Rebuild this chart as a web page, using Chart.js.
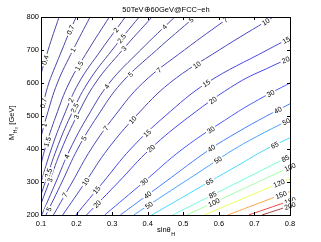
<!DOCTYPE html>
<html>
<head>
<meta charset="utf-8">
<script src="https://cdn.jsdelivr.net/npm/chart.js@4.4.1/dist/chart.umd.min.js"></script>
<style>
  html, body { margin: 0; padding: 0; background: #fff; }
  #wrap { width: 321px; height: 242px; }
</style>
</head>
<body>
<div id="wrap"><canvas id="chart" width="321" height="242"></canvas></div>
<script>
// contour levels and the traced lines, as [sinθ, M_H3] pairs
const levels = [0.4, 0.7, 1, 1.5, 2, 2.5, 3, 4, 5, 7, 10, 15, 20, 30, 40, 50, 65, 85, 100, 120, 150, 180, 200];

const c0_4 = [[0.1,627],[0.106,650],[0.120,700],[0.135,750],[0.151,800]];
const c0_7 = [[0.1,512],[0.109,550],[0.122,600],[0.140,650],[0.159,700],[0.178,750],[0.199,800]];
const c1   = [[0.1,437],[0.116,500],[0.146,600],[0.190,700],[0.238,800]];
const c1_5 = [[0.1,353],[0.111,400],[0.142,500],[0.179,600],[0.233,700],[0.292,800]];
const c2   = [[0.1,299],[0.129,400],[0.164,500],[0.206,600],[0.269,700],[0.337,800]];
const c2_5 = [[0.1,261],[0.112,300],[0.144,400],[0.183,500],[0.231,600],[0.300,700],[0.376,800]];
const c3   = [[0.1,234],[0.123,300],[0.158,400],[0.201,500],[0.253,600],[0.329,700],[0.412,800]];
const c4   = [[0.102,200],[0.142,300],[0.182,400],[0.232,500],[0.292,600],[0.380,700],[0.476,800]];
const c5   = [[0.114,200],[0.159,300],[0.203,400],[0.259,500],[0.326,600],[0.425,700],[0.532,800]];
const c7   = [[0.135,200],[0.188,300],[0.241,400],[0.307,500],[0.386,600],[0.503,700],[0.630,800]];
const c10  = [[0.161,200],[0.225,300],[0.288,400],[0.367,500],[0.462,600],[0.601,700],[0.753,800]];
const c15  = [[0.198,200],[0.275,300],[0.352,400],[0.449,500],[0.566,600],[0.736,700],[0.8,736]];
const c20  = [[0.228,200],[0.318,300],[0.407,400],[0.519,500],[0.653,600],[0.747,650],[0.8,676]];
const c30  = [[0.279,200],[0.389,300],[0.498,400],[0.635,500],[0.712,550],[0.8,600]];
const c40  = [[0.323,200],[0.449,300],[0.576,400],[0.651,450],[0.734,500],[0.8,537]];
const c50  = [[0.361,200],[0.431,250],[0.502,300],[0.573,350],[0.644,400],[0.728,450],[0.8,489]];
const c65  = [[0.411,200],[0.492,250],[0.572,300],[0.653,350],[0.734,400],[0.8,434]];
const c85  = [[0.470,200],[0.562,250],[0.655,300],[0.747,350],[0.8,379]];
const c100 = [[0.510,200],[0.610,250],[0.710,300],[0.8,345]];
const c120 = [[0.559,200],[0.668,250],[0.778,300],[0.8,310]];
const c150 = [[0.625,200],[0.747,250],[0.8,271]];
const c180 = [[0.684,200],[0.751,225],[0.8,243]];
const c200 = [[0.721,200],[0.764,215],[0.8,228]];

const contours = [c0_4, c0_7, c1, c1_5, c2, c2_5, c3, c4, c5, c7, c10, c15, c20,
                  c30, c40, c50, c65, c85, c100, c120, c150, c180, c200];

// where the inline labels sit: [level, M_H3]
const labelSpots = [
  [0.4,670], [0.7,761], [0.7,539], [1,700], [1,473], [1.5,652], [1.5,422],
  [2,761], [2,548], [2.5,735], [2.5,524], [2.5,327], [3,705], [3,497], [3,306],
  [4,770], [4,589], [4,377], [5,791], [5,626], [5,432], [5,218],
  [7,791], [7,639], [7,463], [7,261], [10,786], [10,655], [10,488], [10,301],
  [15,730], [15,599], [15,448], [15,276], [20,670], [20,548], [20,402], [20,233],
  [30,569], [30,458], [30,301], [40,518], [40,402], [40,261],
  [50,483], [50,367], [50,230], [65,412], [65,301], [85,372], [85,261],
  [100,346], [100,238], [120,296], [150,261], [180,245], [200,230]
];

const xTicks = [0.1, 0.2, 0.3, 0.4, 0.5, 0.6, 0.7, 0.8];
const yTicks = [200, 300, 400, 500, 600, 700, 800];

const FONT = '"Liberation Sans", Arial, Helvetica, sans-serif';

// matlab jet colormap over the level range, softened a bit like the thin antialiased lines
function jet(v) {
    const t = (v - levels[0]) / (levels[levels.length - 1] - levels[0]);
    const c = k => {
        const f = Math.max(0, Math.min(1, 1.5 - Math.abs(4 * t - k)));
        return Math.round(255 * (0.28 + 0.72 * f));
    };
    return `rgb(${c(3)},${c(2)},${c(1)})`;
}

function pointAt(line, m) {
    if (m <= line[0][1]) return line[0];
    if (m >= line[line.length - 1][1]) return line[line.length - 1];
    for (let i = 1; i < line.length; i++) {
        const a = line[i - 1], b = line[i];
        if (m >= a[1] && m <= b[1]) {
            const f = (m - a[1]) / (b[1] - a[1]);
            return [a[0] + f * (b[0] - a[0]), m];
        }
    }
    return line[line.length - 1];
}

const decorPlugin = {
    id: 'decor',
    afterDatasetsDraw(chart) {
        const { ctx, chartArea: a, scales: { x, y } } = chart;
        ctx.save();
        // contour labels
        ctx.font = '7px ' + FONT;
        ctx.textAlign = 'center';
        ctx.textBaseline = 'middle';
        labelSpots.forEach(([lv, m]) => {
            const line = contours[levels.indexOf(lv)];
            const p = pointAt(line, m);
            const p1 = pointAt(line, m - 15), p2 = pointAt(line, m + 15);
            const px = x.getPixelForValue(p[0]), py = y.getPixelForValue(p[1]);
            const ang = Math.atan2(y.getPixelForValue(p2[1]) - y.getPixelForValue(p1[1]),
                                   x.getPixelForValue(p2[0]) - x.getPixelForValue(p1[0]));
            const txt = String(lv);
            const w = ctx.measureText(txt).width;
            ctx.save();
            ctx.translate(px, py);
            ctx.rotate(ang);
            ctx.fillStyle = '#fff';
            ctx.fillRect(-w / 2 - 1.5, -4, w + 3, 8);
            ctx.fillStyle = '#000';
            ctx.fillText(txt, 0, 0.5);
            ctx.restore();
        });

        // box and inward ticks
        ctx.strokeStyle = '#000';
        ctx.lineWidth = 1;
        ctx.strokeRect(Math.round(a.left) + 0.5, Math.round(a.top) + 0.5,
                       Math.round(a.right - a.left), Math.round(a.bottom - a.top));
        ctx.beginPath();
        xTicks.forEach(v => {
            const px = Math.round(x.getPixelForValue(v)) + 0.5;
            ctx.moveTo(px, a.bottom); ctx.lineTo(px, a.bottom - 3);
            ctx.moveTo(px, a.top); ctx.lineTo(px, a.top + 3);
        });
        yTicks.forEach(v => {
            const py = Math.round(y.getPixelForValue(v)) + 0.5;
            ctx.moveTo(a.left, py); ctx.lineTo(a.left + 3, py);
            ctx.moveTo(a.right, py); ctx.lineTo(a.right - 3, py);
        });
        ctx.stroke();

        // title
        ctx.fillStyle = '#000';
        ctx.textBaseline = 'alphabetic';
        ctx.textAlign = 'center';
        ctx.font = '7.5px ' + FONT;
        ctx.fillText('50TeV\u229560GeV@FCC\u2212eh', 166, 11.5);

        // x title: sinθ_H
        ctx.textAlign = 'left';
        const main = 'sin\u03b8';
        const mw = ctx.measureText(main).width;
        ctx.fillText(main, 157, 232);
        ctx.font = '5.5px ' + FONT;
        ctx.fillText('H', 157 + mw + 0.5, 235.5);

        // y title: M_{H_3} [GeV], rotated
        ctx.save();
        ctx.translate(14, 140);
        ctx.rotate(-Math.PI / 2);
        ctx.font = '7.5px ' + FONT;
        ctx.fillText('M', 0, 0);
        let off = ctx.measureText('M').width;
        ctx.font = '5.5px ' + FONT;
        ctx.fillText('H', off + 0.3, 2.5);
        off += ctx.measureText('H').width + 0.3;
        ctx.font = '4px ' + FONT;
        ctx.fillText('3', off, 4);
        off += ctx.measureText('3').width + 0.5;
        ctx.font = '7.5px ' + FONT;
        ctx.fillText(' [GeV]', off, 0);
        ctx.restore();

        ctx.restore();
    }
};

new Chart(document.getElementById('chart'), {
    type: 'scatter',
    data: {
        datasets: levels.map((lv, i) => ({
            label: String(lv),
            data: contours[i].map(p => ({ x: p[0], y: p[1] })),
            showLine: true,
            borderColor: jet(lv),
            borderWidth: 1,
            pointRadius: 0,
            tension: 0.4,
            fill: false
        }))
    },
    options: {
        responsive: false,
        animation: false,
        layout: { padding: { top: 17, right: 31, left: 0, bottom: 0 } },
        plugins: { legend: { display: false }, tooltip: { enabled: false } },
        scales: {
            x: {
                type: 'linear', min: 0.1, max: 0.8,
                afterBuildTicks: s => { s.ticks = xTicks.map(v => ({ value: v })); },
                afterFit: s => { s.height = 27; },
                grid: { display: false, drawTicks: false },
                border: { display: false },
                ticks: { color: '#000', padding: 4, font: { family: FONT, size: 7.5 },
                         callback: v => v.toFixed(1) }
            },
            y: {
                type: 'linear', min: 200, max: 800,
                afterBuildTicks: s => { s.ticks = yTicks.map(v => ({ value: v })); },
                afterFit: s => { s.width = 41; },
                grid: { display: false, drawTicks: false },
                border: { display: false },
                ticks: { color: '#000', padding: 2, font: { family: FONT, size: 7.5 } }
            }
        }
    },
    plugins: [decorPlugin]
});
</script>
</body>
</html>
